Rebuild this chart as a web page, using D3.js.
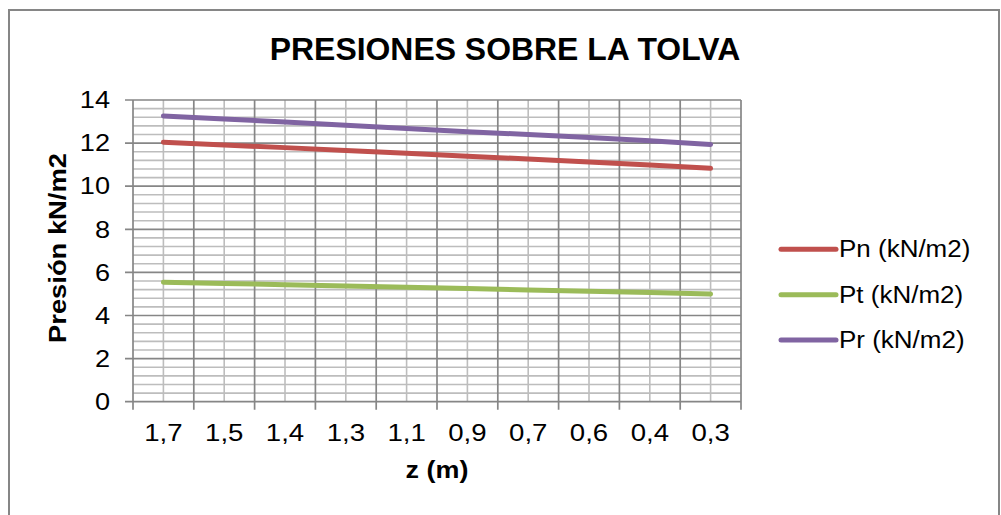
<!DOCTYPE html>
<html>
<head>
<meta charset="utf-8">
<script src="https://cdn.jsdelivr.net/npm/d3@7"></script>
<style>
  html, body { margin: 0; padding: 0; background: #fff; }
  svg { display: block; }
  text { font-family: "Liberation Sans", Arial, sans-serif; fill: #000; }
</style>
</head>
<body>
<svg id="chart" width="1001" height="515"></svg>
<script>
// Depth along the hopper (m) and pressures on the wall (kN/m2)
const categories = ["1,7", "1,5", "1,4", "1,3", "1,1", "0,9", "0,7", "0,6", "0,4", "0,3"];
const pn = [12.04, 11.91, 11.79, 11.66, 11.53, 11.39, 11.26, 11.12, 10.98, 10.83];
const pt = [5.54, 5.49, 5.43, 5.37, 5.31, 5.25, 5.18, 5.12, 5.07, 5.00];
const pr = [13.26, 13.12, 12.98, 12.83, 12.68, 12.53, 12.40, 12.26, 12.11, 11.94];
const seriesNames = ["Pn (kN/m2)", "Pt (kN/m2)", "Pr (kN/m2)"];
const seriesColors = ["#C0504D", "#9BBB59", "#8064A2"];
const yMajorTicks = [0, 2, 4, 6, 8, 10, 12, 14];
const titleText = "PRESIONES SOBRE LA TOLVA";
const yTitle = "Presión kN/m2";
const xTitle = "z (m)";

const series = [pn, pt, pr];
const svg = d3.select("#chart");

// outer frame of the chart area
svg.append("rect")
  .attr("x", 9).attr("y", 10).attr("width", 990).attr("height", 520)
  .attr("fill", "#fff").attr("stroke", "#868686").attr("stroke-width", 2);

const plot = { left: 133, right: 741, top: 100, bottom: 401.7 };

const x = d3.scaleBand().domain(categories).range([plot.left, plot.right]).padding(0);
const y = d3.scaleLinear().domain([0, 14]).range([plot.bottom, plot.top]);
const cx = c => x(c) + x.bandwidth() / 2;

// text drawn with a horizontal stretch factor
function stretchedText(g, tx, ty, str, size, sx, anchor, weight) {
  return g.append("text")
    .attr("transform", `translate(${tx},${ty}) scale(${sx},1)`)
    .attr("text-anchor", anchor)
    .attr("font-size", size)
    .attr("font-weight", weight || "normal")
    .text(str);
}

const grid = svg.append("g");

// minor horizontal gridlines every 0.4
const minorY = d3.range(0, 14.0001, 0.4).filter(v => Math.abs(v / 2 - Math.round(v / 2)) > 1e-6);
grid.selectAll("line.hminor").data(minorY).join("line")
  .attr("x1", plot.left).attr("x2", plot.right)
  .attr("y1", d => y(d)).attr("y2", d => y(d))
  .attr("stroke", "#bdbdbd").attr("stroke-width", 1.6);

// minor vertical gridlines at the category centres
grid.selectAll("line.vminor").data(categories).join("line")
  .attr("x1", d => cx(d)).attr("x2", d => cx(d))
  .attr("y1", plot.top).attr("y2", plot.bottom)
  .attr("stroke", "#bdbdbd").attr("stroke-width", 1.6);

// major horizontal gridlines with tick marks
grid.selectAll("line.hmajor").data(yMajorTicks).join("line")
  .attr("x1", plot.left - 8).attr("x2", plot.right)
  .attr("y1", d => y(d)).attr("y2", d => y(d))
  .attr("stroke", "#868686").attr("stroke-width", 1.7);

// major vertical gridlines at category boundaries, extending as ticks
const bounds = categories.map(c => x(c)).concat([plot.right]);
grid.selectAll("line.vmajor").data(bounds).join("line")
  .attr("x1", d => d).attr("x2", d => d)
  .attr("y1", plot.top).attr("y2", plot.bottom + 8)
  .attr("stroke", "#868686").attr("stroke-width", 1.7);

// y tick labels
const yLab = svg.append("g");
yMajorTicks.forEach(v => stretchedText(yLab, 110, y(v) + 8.2, String(v), 23, 1.18, "end"));

// x tick labels
const xLab = svg.append("g");
categories.forEach(c => stretchedText(xLab, cx(c), 441, c, 23, 1.2, "middle"));

// series lines
const line = d3.line().x((d, i) => cx(categories[i])).y(d => y(d));
svg.append("g").selectAll("path").data(series).join("path")
  .attr("d", d => line(d))
  .attr("fill", "none")
  .attr("stroke", (d, i) => seriesColors[i])
  .attr("stroke-width", 5)
  .attr("stroke-linecap", "round")
  .attr("stroke-linejoin", "round");

// title
stretchedText(svg, 505, 60, titleText, 31, 1.03, "middle", "bold");

// axis titles
svg.append("text")
  .attr("transform", `translate(66,248) rotate(-90) scale(1.14,1)`)
  .attr("text-anchor", "middle")
  .attr("font-size", 24)
  .attr("font-weight", "bold")
  .text(yTitle);
stretchedText(svg, 437, 478, xTitle, 23, 1.17, "middle", "bold");

// legend
const legend = svg.append("g");
seriesNames.forEach((name, i) => {
  const ly = 249.3 + i * 45.4;
  legend.append("line")
    .attr("x1", 781).attr("x2", 836).attr("y1", ly).attr("y2", ly)
    .attr("stroke", seriesColors[i]).attr("stroke-width", 5)
    .attr("stroke-linecap", "round");
  stretchedText(legend, 839, ly + 8, name, 23, 1.13, "start");
});
</script>
</body>
</html>
